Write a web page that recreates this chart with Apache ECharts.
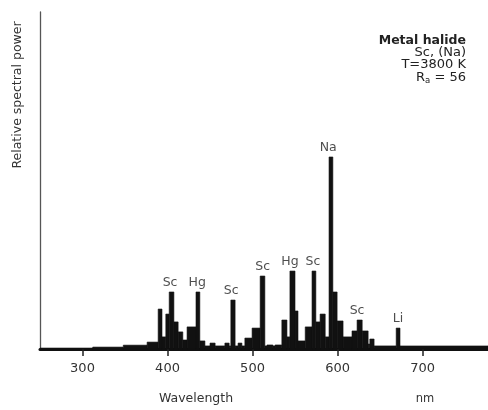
<!DOCTYPE html>
<html>
<head>
<meta charset="utf-8">
<script src="https://cdn.jsdelivr.net/npm/echarts@6/dist/echarts.min.js"></script>
<style>
html,body{margin:0;padding:0;background:#fff;}
#chart{width:488px;height:410px;}
</style>
</head>
<body>
<div id="chart"></div>
<script>
// Spectrum: left edge of each band (nm) and relative power (Na line = 100); last edge closes the final band
const bandStart = [250,312,348,376,389,393.5,398,402,407.5,412.5,418,423,433.5,438,444,450,456,467.5,472.5,474.5,479.5,483,487.5,491,499.5,509,514.5,517,524,526.5,534.5,540.5,544,550,553.5,562,570,574.5,579.5,585.5,590,594.5,599.5,606.5,617,623,629,636,638,643,669,673.5,777];
const bandPower = [0.5,1,2,3.6,20.8,6.3,18.2,29.7,14.1,8.9,4.7,11.5,29.7,4.2,1.6,3.1,1.6,3.1,1.6,25.5,1.6,3.1,1.6,5.7,10.9,38,1.6,2.1,1.6,2.1,15.1,6.3,40.6,19.8,4.2,11.5,40.6,14.1,18.2,6.3,100,29.7,14.6,6.3,9.4,15.1,9.4,2.6,5.2,1.6,10.9,1.6];

// Line identifications
const peakWl = [403,435,475,512,544,571,589,623,671];
const peakPower = [29.7,29.7,25.5,38,40.6,40.6,100,15.1,10.9];
const peakNames = ['Sc','Hg','Sc','Sc','Hg','Sc','Na','Sc','Li'];

const xTicks = [300,400,500,600,700];
const infoLines = ['Metal halide','Sc, (Na)','T=3800 K'];

const FONT = '"DejaVu Sans", sans-serif';
const chart = echarts.init(document.getElementById('chart'), null, {renderer:'canvas'});

const bands = bandPower.map((p,i)=>[bandStart[i], bandStart[i+1], p]);
const peaks = peakWl.map((w,i)=>({value:[w, peakPower[i]], name: peakNames[i]}));

chart.setOption({
  animation:false,
  backgroundColor:'#fff',
  grid:{left:40,right:0,top:12,bottom:61,containLabel:false},
  xAxis:{
    type:'value', min:250, max:777,
    splitLine:{show:false},
    axisLine:{show:true,onZero:false,lineStyle:{color:'#111',width:3}},
    axisTick:{show:true,customValues:xTicks,length:7,lineStyle:{color:'#222',width:1.5}},
    axisLabel:{show:true,customValues:xTicks,margin:13,fontSize:13,color:'#333',fontFamily:FONT}
  },
  yAxis:{
    type:'value', min:0, max:175.5,
    splitLine:{show:false},
    axisLine:{show:true,lineStyle:{color:'#555',width:1.3}},
    axisTick:{show:false},
    axisLabel:{show:false}
  },
  series:[
    {
      type:'custom', data:bands,
      encode:{x:[0,1],y:2},
      renderItem:function(params, api){
        const a = api.coord([api.value(0), 0]);
        const b = api.coord([api.value(1), api.value(2)]);
        return {type:'rect', shape:{x:a[0], y:b[1], width:b[0]-a[0], height:a[1]-b[1]},
          style:{fill:'#111', stroke:'#111', lineWidth:0.6}};
      },
      z:3
    },
    {
      type:'scatter', data:peaks, symbolSize:0,
      label:{show:true,position:'top',distance:3,formatter:p=>p.name,
        fontSize:12.5,color:'#222',fontFamily:FONT},
      z:4
    }
  ],
  graphic:[
    {type:'text',x:18,y:95,rotation:Math.PI/2,style:{text:'Relative spectral power',fontSize:12.5,fill:'#333',fontFamily:FONT,align:'center',verticalAlign:'middle'}},
    {type:'text',x:196,y:399,style:{text:'Wavelength',fontSize:12.5,fill:'#333',fontFamily:FONT,align:'center',verticalAlign:'middle'}},
    {type:'text',x:425,y:399,style:{text:'nm',fontSize:11.5,fill:'#333',fontFamily:FONT,align:'center',verticalAlign:'middle'}},
    {type:'text',x:466,y:41,style:{text:infoLines[0],fontSize:12.5,fontWeight:'bold',fill:'#222',fontFamily:FONT,align:'right',verticalAlign:'middle'}},
    {type:'text',x:466,y:53,style:{text:infoLines[1],fontSize:13,fill:'#222',fontFamily:FONT,align:'right',verticalAlign:'middle'}},
    {type:'text',x:466,y:65,style:{text:infoLines[2],fontSize:13,fill:'#222',fontFamily:FONT,align:'right',verticalAlign:'middle'}},
    {type:'text',x:466,y:78,style:{text:'{r|R}{s|a}{r| = 56}',fill:'#222',fontFamily:FONT,align:'right',verticalAlign:'middle',
      rich:{r:{fontSize:13,fontFamily:FONT,fill:'#222'},s:{fontSize:8.5,fontFamily:FONT,fill:'#222',verticalAlign:'bottom',padding:[5,0,0,0]}}}}
  ]
});
</script>
</body>
</html>
